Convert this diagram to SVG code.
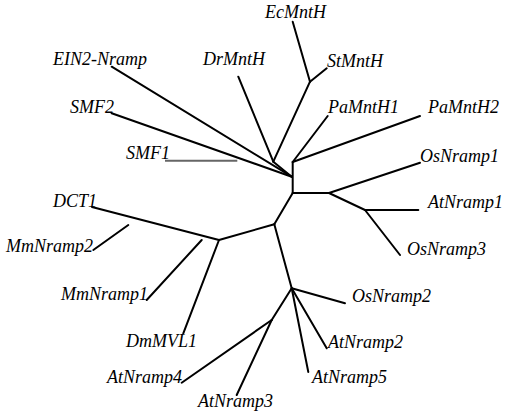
<svg xmlns="http://www.w3.org/2000/svg" width="515" height="414" viewBox="0 0 515 414">
<style>
.lbl{font-family:"Liberation Serif","Times New Roman",serif;font-style:italic;font-size:18px;fill:#000}
.br{stroke:#000;stroke-width:2;fill:none;stroke-linecap:round}
.gr{stroke:#666;stroke-width:2;fill:none}
</style>
<rect width="515" height="414" fill="#fff"/>
<g id="connectors">
<line class="br" x1="292.7" y1="162" x2="292.7" y2="193"/>
<line class="br" x1="292.7" y1="162" x2="420" y2="116"/>
<line class="br" x1="292.7" y1="162" x2="327.7" y2="116"/>
<line class="br" x1="111.7" y1="66.7" x2="291.7" y2="176.7"/>
<line class="br" x1="111.7" y1="113.3" x2="291.7" y2="176.7"/>
<line class="br" x1="273.3" y1="161.7" x2="291.7" y2="176.7"/>
<line class="br" x1="273.3" y1="161.7" x2="238.3" y2="76.7"/>
<line class="br" x1="273.3" y1="161.7" x2="310" y2="81.7"/>
<line class="br" x1="310" y1="81.7" x2="292.7" y2="21.7"/>
<line class="br" x1="310" y1="81.7" x2="326.7" y2="68.3"/>
<line class="gr" x1="165" y1="160.7" x2="237.3" y2="160.7"/>
<line class="br" x1="292.7" y1="193" x2="329" y2="193"/>
<line class="br" x1="329" y1="193" x2="420" y2="162.7"/>
<line class="br" x1="329" y1="193" x2="365" y2="210"/>
<line class="br" x1="365" y1="210" x2="418.3" y2="210"/>
<line class="br" x1="365" y1="210" x2="400" y2="255"/>
<line class="br" x1="292.7" y1="193" x2="274.3" y2="224.3"/>
<line class="br" x1="274.3" y1="224.3" x2="219" y2="240"/>
<line class="br" x1="219" y1="240" x2="92" y2="207"/>
<line class="br" x1="93.3" y1="250" x2="128.3" y2="225"/>
<line class="br" x1="146.7" y1="300" x2="201.7" y2="240"/>
<line class="br" x1="219" y1="240" x2="183.3" y2="333.3"/>
<line class="br" x1="274.3" y1="224.3" x2="291.7" y2="288.3"/>
<line class="br" x1="291.7" y1="288.3" x2="345" y2="303.3"/>
<line class="br" x1="291.7" y1="288.3" x2="326.7" y2="348.3"/>
<line class="br" x1="291.7" y1="288.3" x2="308.3" y2="372"/>
<line class="br" x1="291.7" y1="288.3" x2="271.7" y2="320"/>
<line class="br" x1="271.7" y1="320" x2="181.7" y2="382.7"/>
<line class="br" x1="271.7" y1="320" x2="236.7" y2="395"/>
</g>
<g id="EcMntH"><text class="lbl" x="265" y="18">EcMntH</text></g>
<g id="StMntH"><text class="lbl" x="327" y="67">StMntH</text></g>
<g id="DrMntH"><text class="lbl" x="203" y="65">DrMntH</text></g>
<g id="EIN2-Nramp"><text class="lbl" x="53" y="65">EIN2-Nramp</text></g>
<g id="SMF2"><text class="lbl" x="70" y="113">SMF2</text></g>
<g id="SMF1"><text class="lbl" x="126" y="159">SMF1</text></g>
<g id="PaMntH1"><text class="lbl" x="328" y="113">PaMntH1</text></g>
<g id="PaMntH2"><text class="lbl" x="428" y="113">PaMntH2</text></g>
<g id="OsNramp1"><text class="lbl" x="420" y="162">OsNramp1</text></g>
<g id="AtNramp1"><text class="lbl" x="428" y="208">AtNramp1</text></g>
<g id="OsNramp3"><text class="lbl" x="407" y="255">OsNramp3</text></g>
<g id="DCT1"><text class="lbl" x="53" y="207">DCT1</text></g>
<g id="MmNramp2"><text class="lbl" x="6" y="252">MmNramp2</text></g>
<g id="MmNramp1"><text class="lbl" x="61" y="300">MmNramp1</text></g>
<g id="DmMVL1"><text class="lbl" x="126" y="347">DmMVL1</text></g>
<g id="OsNramp2"><text class="lbl" x="352" y="302">OsNramp2</text></g>
<g id="AtNramp2"><text class="lbl" x="328" y="348">AtNramp2</text></g>
<g id="AtNramp5"><text class="lbl" x="312" y="383">AtNramp5</text></g>
<g id="AtNramp4"><text class="lbl" x="107" y="383">AtNramp4</text></g>
<g id="AtNramp3"><text class="lbl" x="198" y="407">AtNramp3</text></g>
</svg>
